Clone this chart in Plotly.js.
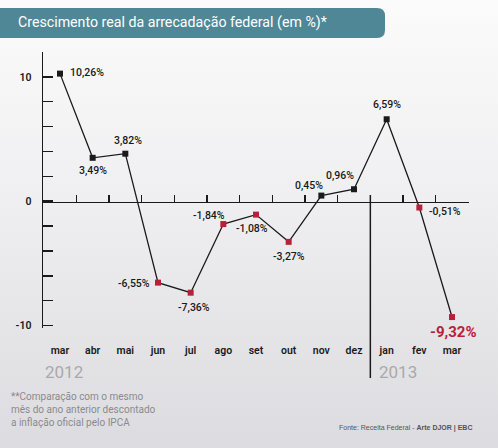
<!DOCTYPE html>
<html>
<head>
<meta charset="utf-8">
<script src="https://cdn.plot.ly/plotly-3.0.1.min.js"></script>
<style>
html,body{margin:0;padding:0;}
body{width:498px;height:448px;background:linear-gradient(to bottom,#fbfbfb 0%,#efeff1 45%,#dcdce0 100%);overflow:hidden;}
#chart{width:498px;height:448px;}
</style>
</head>
<body>
<div id="chart"></div>
<script>
// ---- data ----
const months = ["mar","abr","mai","jun","jul","ago","set","out","nov","dez","jan","fev","mar"];
const values = [10.26, 3.49, 3.82, -6.55, -7.36, -1.84, -1.08, -3.27, 0.45, 0.96, 6.59, -0.51, -9.32];
const valueLabels = ["10,26%","3,49%","3,82%","-6,55%","-7,36%","-1,84%","-1,08%","-3,27%","0,45%","0,96%","6,59%","-0,51%","-9,32%"];
const years = ["2012","2013"];
const yTickVals = [-10,-8,-6,-4,-2,0,2,4,6,8,10,12];
const yTickText = ["-10","","","","","0","","","","","10",""];
const titleText = "Crescimento real da arrecadação federal (em %)*";
const noteLines = ["**Comparação com o mesmo","mês do ano anterior descontado","a inflação oficial pelo IPCA"];
const sourceText = "Fonte: Receita Federal - <b>Arte DJOR | EBC</b>";

// ---- layout helpers (pixel -> paper) ----
const L = 43, R = 469, T = 52, B = 328;
const W = R - L, H = B - T;
const px = x => (x - L) / W;
const py = y => (B - y) / H;
const idx = months.map((m, i) => i);
const red = "#b8203a";
const ink = "#1a1a1a";
const FONT = "Roboto, sans-serif";

// label placement per point: [xanchor, xshift, yshift]
const labelPos = [
  ["left", 8, 1], ["center", 0, -13], ["center", 3, 13], ["right", -6, -1],
  ["center", 3, -15], ["center", -14, 9], ["center", -4, -14], ["center", 0, -15],
  ["center", -12, 10], ["center", -14, 14], ["center", 0, 15], ["left", 8, -4], ["center", 1, -15]
];

const annotations = [];
values.forEach((v, i) => {
  const last = i === values.length - 1;
  const p = labelPos[i];
  annotations.push({
    x: idx[i], y: v, xref: "x", yref: "y", text: last ? "<b>" + valueLabels[i] + "</b>" : valueLabels[i], showarrow: false,
    xanchor: p[0], yanchor: "middle", xshift: p[1], yshift: p[2],
    font: last ? {family: FONT, size: 15, color: red}
               : {family: FONT, size: 10.5, color: ink, weight: 500}
  });
});
// title
annotations.push({xref: "paper", yref: "paper", x: px(16), y: py(23), xanchor: "left", yanchor: "middle",
  text: titleText, showarrow: false, font: {family: FONT, size: 14.2, color: "#ffffff"}});
// years
annotations.push({xref: "paper", yref: "paper", x: px(43), y: py(372), xanchor: "left", yanchor: "middle",
  text: years[0], showarrow: false, font: {family: FONT, size: 17, color: "#a9a9ad"}});
annotations.push({xref: "paper", yref: "paper", x: px(377), y: py(372), xanchor: "left", yanchor: "middle",
  text: years[1], showarrow: false, font: {family: FONT, size: 17, color: "#a9a9ad"}});
// footnote
noteLines.forEach((t, i) => {
  annotations.push({xref: "paper", yref: "paper", x: px(9), y: py(396 + i * 13), xanchor: "left", yanchor: "middle",
    text: t, showarrow: false, font: {family: FONT, size: 10, color: "#8a8a8e"}});
});
// source
annotations.push({xref: "paper", yref: "paper", x: px(474), y: py(428), xanchor: "right", yanchor: "middle",
  text: sourceText, showarrow: false, font: {family: "Liberation Sans, Arial", size: 7, color: "#555"}});

const banner = {
  type: "path", xref: "paper", yref: "paper", layer: "below",
  path: `M ${px(-10)},${py(8)} L ${px(377)},${py(8)} Q ${px(385)},${py(8)} ${px(385)},${py(16)} L ${px(385)},${py(30)} Q ${px(385)},${py(38)} ${px(377)},${py(38)} L ${px(-10)},${py(38)} Z`,
  fillcolor: "#4f8797", line: {width: 0}
};
const separator = {
  type: "line", xref: "x", yref: "paper", x0: 9.5, x1: 9.5, y0: py(378), y1: py(195),
  line: {color: ink, width: 1.5}
};

const trace = {
  x: idx, y: values, type: "scatter", mode: "lines+markers",
  line: {color: ink, width: 1.3},
  marker: {symbol: "square", size: 6, color: values.map(v => v < 0 ? red : ink)},
  hoverinfo: "skip", cliponaxis: false
};
const zeroAxisTrace = {x: [idx[0]], y: [0], xaxis: "x2", yaxis: "y", mode: "markers",
  marker: {opacity: 0}, hoverinfo: "skip", showlegend: false};

const layout = {
  width: 498, height: 448,
  margin: {l: L, r: 498 - R, t: T, b: 448 - B},
  paper_bgcolor: "rgba(0,0,0,0)", plot_bgcolor: "rgba(0,0,0,0)",
  showlegend: false,
  xaxis: {
    range: [-0.52, 12.52], tickvals: idx, ticktext: months, ticks: "", showline: false,
    showgrid: false, zeroline: false, ticklabelstandoff: 14,
    tickfont: {family: FONT, size: 10.5, color: ink, weight: 600}
  },
  xaxis2: {
    overlaying: "x", anchor: "free", position: py(201.7), range: [-0.52, 12.52],
    tickvals: idx.map(i => i + 0.5), showticklabels: false, ticks: "inside", ticklen: 7, tickwidth: 1.5, tickcolor: ink,
    showline: true, linecolor: ink, linewidth: 1.5, showgrid: false, zeroline: false
  },
  yaxis: {
    range: [-10.2, 12], tickvals: yTickVals, ticktext: yTickText, ticks: "inside", ticklen: 10,
    tickwidth: 1.5, tickcolor: ink, showline: true, linecolor: ink, linewidth: 1.5,
    showgrid: false, zeroline: false, ticklabelstandoff: 8,
    tickfont: {family: FONT, size: 10.5, color: ink, weight: 600}
  },
  shapes: [banner, separator],
  annotations: annotations
};

Plotly.newPlot("chart", [zeroAxisTrace, trace], layout, {staticPlot: true, displayModeBar: false});
</script>
</body>
</html>
